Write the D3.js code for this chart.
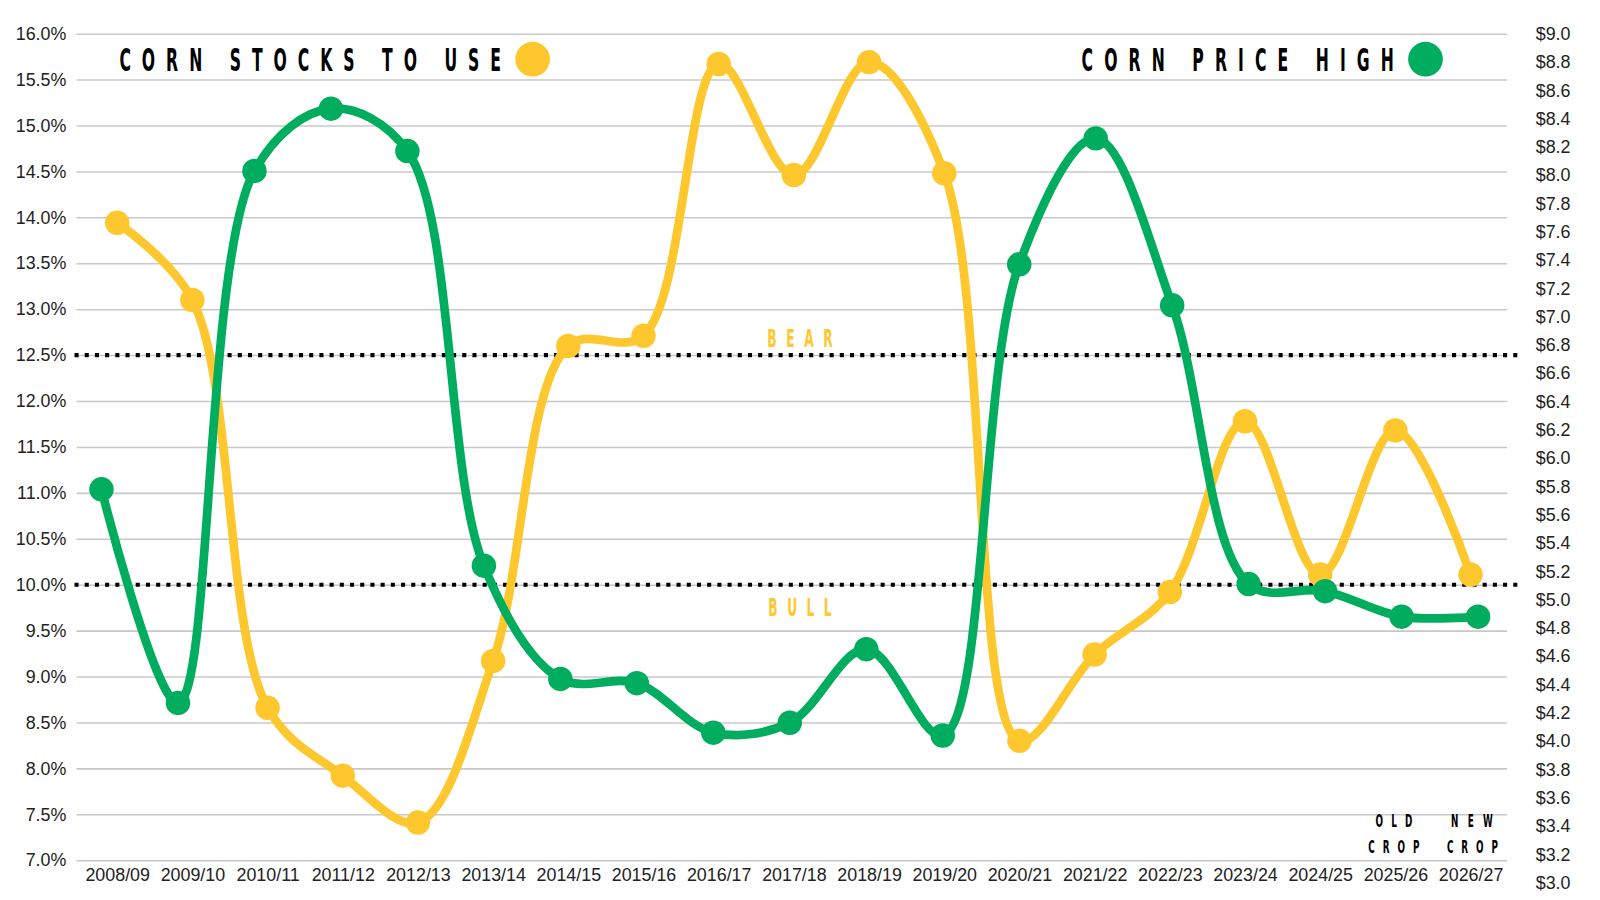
<!DOCTYPE html>
<html>
<head>
    <title>Corn Stocks to Use vs Corn Price High</title>
    <script src="https://d3js.org/d3.v7.min.js"></script>
    <style>
        body { margin: 0; background: #fff; }
        .axis text { font-family: "Liberation Sans", Arial, sans-serif; font-size: 17.5px; fill: #222; }
        .axis .domain { display: none; }
        .grid line { stroke: #c8c8c8; stroke-width: 1.5; }
        .grid .domain { display: none; }
    </style>
</head>
<body>
<div id="chart"></div>
<script>
// chart values
const seasons = ["2008/09", "2009/10", "2010/11", "2011/12", "2012/13", "2013/14", "2014/15",
    "2015/16", "2016/17", "2017/18", "2018/19", "2019/20", "2020/21", "2021/22", "2022/23",
    "2023/24", "2024/25", "2025/26", "2026/27"];
const stocksToUse = [13.94, 13.10, 8.66, 7.92, 7.41, 9.17, 12.60, 12.71, 15.67, 14.46, 15.69,
    14.48, 8.30, 9.24, 9.92, 11.78, 10.11, 11.68, 10.11];
const priceHigh = [5.78, 4.27, 8.03, 8.47, 8.17, 5.24, 4.44, 4.41, 4.06, 4.13, 4.65,
    4.04, 7.37, 8.26, 7.08, 5.11, 5.06, 4.88, 4.88];
const pctTicks = d3.range(7, 16.01, 0.5);
const priceTicks = d3.range(3, 9.01, 0.2);
const bearBull = [12.5, 10.0];

const YELLOW = "#fec72e", GREEN = "#00ac5e";
const COND = '"Liberation Sans Narrow", "DejaVu Sans Condensed", "Liberation Sans", sans-serif';

const width = 1600, height = 900;
const svg = d3.select("#chart").append("svg")
    .attr("width", width)
    .attr("height", height);
// layout was measured on a 0.98 scaled view
const chart = svg.append("g").attr("transform", "scale(1.0204)");

// two category axes, like the original (price series sits on a secondary axis)
const xStock = d3.scalePoint().domain(seasons).range([78, 1478]).padding(0.5);
const xPrice = d3.scalePoint().domain(seasons).range([62, 1486]).padding(0.5);
const yStock = d3.scaleLinear().domain([7, 16]).range([843, 33]);
const yPrice = d3.scaleLinear().domain([3, 9]).range([865, 33]);

// gridlines
chart.append("g")
    .attr("class", "grid")
    .attr("transform", "translate(75,0)")
    .call(d3.axisRight(yStock).tickValues(pctTicks).tickSize(1402).tickFormat(""));

// left axis
chart.append("g")
    .attr("class", "axis")
    .attr("transform", "translate(75,0)")
    .call(d3.axisLeft(yStock).tickValues(pctTicks).tickSize(0).tickPadding(10)
        .tickFormat(d => d.toFixed(1) + "%"));

// right axis
chart.append("g")
    .attr("class", "axis")
    .attr("transform", "translate(1495,0)")
    .call(d3.axisRight(yPrice).tickValues(priceTicks).tickSize(0).tickPadding(10)
        .tickFormat(d => "$" + d.toFixed(1)));

// bottom axis
chart.append("g")
    .attr("class", "axis")
    .attr("transform", "translate(0,843)")
    .call(d3.axisBottom(xStock).tickSize(0).tickPadding(8));

// bear / bull thresholds
chart.selectAll(".thresh")
    .data(bearBull)
    .enter().append("line")
    .attr("class", "thresh")
    .attr("x1", 73).attr("x2", 1488)
    .attr("y1", d => yStock(d)).attr("y2", d => yStock(d))
    .attr("stroke", "#000")
    .attr("stroke-width", 4)
    .attr("stroke-dasharray", "4,6");

// condensed, stretched caption text
function caption(str, x, baseline, capH, len, color) {
    const sx = 0.8, sy = 1.5;
    const fs = capH / (0.72 * sy);
    chart.append("text")
        .attr("transform", `translate(${x},${baseline}) scale(${sx},${sy})`)
        .attr("font-family", COND)
        .attr("font-weight", "bold")
        .attr("font-size", fs)
        .attr("fill", color)
        .attr("textLength", len / sx)
        .attr("lengthAdjust", "spacing")
        .text(str);
}

const line = (x, y, vals) => d3.line()
    .x((d, i) => x(seasons[i]))
    .y(d => y(d))
    .curve(d3.curveCatmullRom.alpha(0.5))(vals);

// stocks to use series
chart.append("path")
    .attr("d", line(xStock, yStock, stocksToUse))
    .attr("fill", "none")
    .attr("stroke", YELLOW)
    .attr("stroke-width", 8.5);
chart.selectAll(".dotS")
    .data(stocksToUse)
    .enter().append("circle")
    .attr("class", "dotS")
    .attr("cx", (d, i) => xStock(seasons[i]))
    .attr("cy", d => yStock(d))
    .attr("r", 12)
    .attr("fill", YELLOW);

// price high series
chart.append("path")
    .attr("d", line(xPrice, yPrice, priceHigh))
    .attr("fill", "none")
    .attr("stroke", GREEN)
    .attr("stroke-width", 8.5);
chart.selectAll(".dotP")
    .data(priceHigh)
    .enter().append("circle")
    .attr("class", "dotP")
    .attr("cx", (d, i) => xPrice(seasons[i]))
    .attr("cy", d => yPrice(d))
    .attr("r", 12)
    .attr("fill", GREEN);

// labels
caption("BEAR", 752, 340, 18, 64, YELLOW);
caption("BULL", 753, 604, 18, 62, YELLOW);
caption("OLD", 1348, 810, 13, 36, "#000");
caption("CROP", 1341, 836, 13, 50, "#000");
caption("NEW", 1422, 810, 13, 41, "#000");
caption("CROP", 1418, 836, 13, 50, "#000");

// legend
caption("CORN STOCKS TO USE", 117, 70, 23, 374, "#000");
chart.append("circle").attr("cx", 522).attr("cy", 58).attr("r", 17).attr("fill", YELLOW);
caption("CORN PRICE HIGH", 1060, 70, 23, 306, "#000");
chart.append("circle").attr("cx", 1397).attr("cy", 58).attr("r", 17).attr("fill", GREEN);
</script>
</body>
</html>
